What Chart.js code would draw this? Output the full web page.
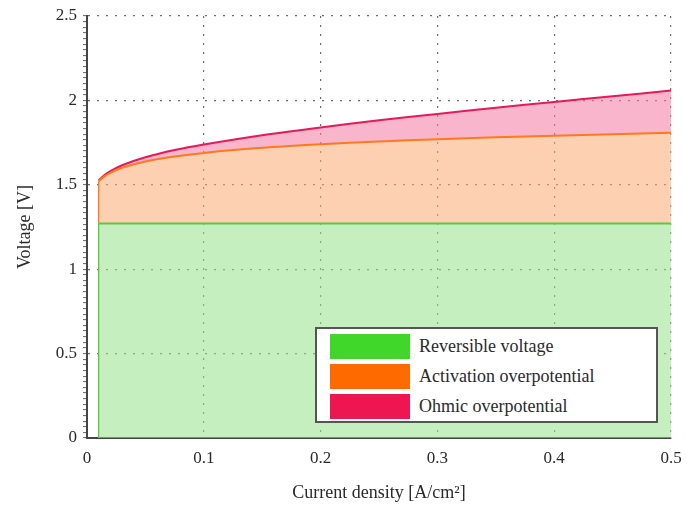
<!DOCTYPE html>
<html>
<head>
<meta charset="utf-8">
<script src="https://cdn.jsdelivr.net/npm/chart.js@4/dist/chart.umd.min.js"></script>
<style>
  body { margin: 0; background: #fff; }
  #wrap { position: relative; width: 687px; height: 510px; }
  #legend {
    position: absolute; left: 315px; top: 327px; width: 343px; height: 96px;
    background: #fff; border: 2px solid #555; box-sizing: border-box;
    font-family: "Liberation Serif", serif; font-size: 18px; color: #2a2a2a;
  }
  .row { position: absolute; left: 13px; height: 26px; display: flex; align-items: center; }
  .sw { width: 80px; height: 25px; margin-right: 9px; }
</style>
</head>
<body>
<div id="wrap">
  <canvas id="voltChart" width="687" height="510"></canvas>
  <div id="legend"></div>
</div>
<script>
// current density [A/cm2]
const current    = [0.01, 0.015, 0.02, 0.03, 0.05, 0.075, 0.1, 0.15, 0.2, 0.25, 0.3, 0.35, 0.4, 0.45, 0.5];
// reversible voltage [V]
const reversible = [1.27, 1.27, 1.27, 1.27, 1.27, 1.27, 1.27, 1.27, 1.27, 1.27, 1.27, 1.27, 1.27, 1.27, 1.27];
// reversible + activation [V]
const activation = [1.52, 1.55, 1.571, 1.601, 1.638, 1.668, 1.689, 1.719, 1.74, 1.757, 1.77, 1.781, 1.791, 1.8, 1.808];
// reversible + activation + ohmic [V]
const ohmic      = [1.525, 1.558, 1.581, 1.616, 1.663, 1.706, 1.739, 1.794, 1.84, 1.882, 1.92, 1.956, 1.991, 2.025, 2.058];

const xTicks = [0, 0.1, 0.2, 0.3, 0.4, 0.5];
const xTickLabels = ['0', '0.1', '0.2', '0.3', '0.4', '0.5'];
const yTicks = [0, 0.5, 1, 1.5, 2, 2.5];
const yTickLabels = ['0', '0.5', '1', '1.5', '2', '2.5'];
const minorPerMajor = 15;

const seriesNames = ['Reversible voltage', 'Activation overpotential', 'Ohmic overpotential'];
const lineColors  = ['#55cc40', '#ff7a1a', '#e8185a'];
const fillColors  = ['rgba(150,226,136,0.55)', 'rgba(252,170,115,0.55)', 'rgba(242,120,160,0.55)'];
const swatchColors = ['#40d62a', '#ff6a00', '#ee1650'];

const pts = ys => current.map((x, i) => ({x: x, y: ys[i]}));
const serif = '"Liberation Serif", "DejaVu Serif", serif';
const dark = '#444';

const datasets = [
  {label: seriesNames[0], data: pts(reversible), borderColor: lineColors[0], backgroundColor: fillColors[0], fill: 'origin'},
  {label: seriesNames[1], data: pts(activation), borderColor: lineColors[1], backgroundColor: fillColors[1], fill: '-1'},
  {label: seriesNames[2], data: pts(ohmic), borderColor: lineColors[2], backgroundColor: fillColors[2], fill: '-1'},
  // left edges of the filled regions
  {label: 'edge0', data: [{x: current[0], y: 0}, {x: current[0], y: reversible[0]}], borderColor: lineColors[0], fill: false, borderWidth: 1.5},
  {label: 'edge1', data: [{x: current[0], y: reversible[0]}, {x: current[0], y: activation[0]}], borderColor: lineColors[1], fill: false, borderWidth: 1.5}
].map(d => Object.assign({pointRadius: 0, borderWidth: 2, tension: 0.3}, d));

const isMajor = v => yTicks.some(t => Math.abs(t - v) < 1e-6);

const ctx = document.getElementById('voltChart').getContext('2d');
new Chart(ctx, {
  type: 'line',
  data: {datasets},
  options: {
    responsive: false,
    animation: false,
    devicePixelRatio: 1,
    layout: {padding: {top: 16, right: 16, left: 0, bottom: 0}},
    plugins: {legend: {display: false}, tooltip: {enabled: false}},
    scales: {
      x: {
        type: 'linear', min: 0, max: 0.5,
        afterBuildTicks: s => { s.ticks = xTicks.map(v => ({value: v})); },
        afterFit: s => { s.height = 72; s.paddingLeft = 0; s.paddingRight = 0; },
        ticks: {
          autoSkip: false, maxRotation: 0, padding: 10, color: '#2a2a2a',
          font: {family: serif, size: 17},
          callback: v => xTickLabels[xTicks.findIndex(t => Math.abs(t - v) < 1e-6)]
        },
        grid: {color: 'rgba(60,60,60,0.75)', lineWidth: 1.2, tickLength: 0},
        border: {color: dark, width: 2, dash: [2, 7]},
        title: {display: true, text: 'Current density [A/cm²]', color: '#2a2a2a', font: {family: serif, size: 18}, padding: {top: 0, bottom: 6}}
      },
      y: {
        type: 'linear', min: 0, max: 2.5,
        afterBuildTicks: s => {
          const t = [];
          const step = (yTicks[1] - yTicks[0]) / minorPerMajor;
          const n = Math.round((yTicks[yTicks.length - 1] - yTicks[0]) / step);
          for (let k = 0; k <= n; k++) t.push({value: yTicks[0] + k * step});
          s.ticks = t;
        },
        afterFit: s => { s.width = 87; s.paddingTop = 0; s.paddingBottom = 0; },
        ticks: {
          autoSkip: false, padding: 6, color: '#2a2a2a',
          font: {family: serif, size: 17},
          callback: v => isMajor(v) ? yTickLabels[yTicks.findIndex(t => Math.abs(t - v) < 1e-6)] : ''
        },
        grid: {
          color: c => isMajor(c.tick.value) ? 'rgba(60,60,60,0.75)' : 'rgba(0,0,0,0)',
          lineWidth: 1.2,
          tickLength: 4,
          tickColor: '#666',
          tickWidth: 1,
          tickBorderDash: []
        },
        border: {color: dark, width: 2, dash: [2, 7]},
        title: {display: true, text: 'Voltage [V]', color: '#2a2a2a', font: {family: serif, size: 18}, padding: {top: 14, bottom: 0}}
      }
    }
  }
});

// legend box
const legend = document.getElementById('legend');
seriesNames.forEach((name, i) => {
  const row = document.createElement('div');
  row.className = 'row';
  row.style.top = (4 + i * 30) + 'px';
  row.innerHTML = `<div class="sw" style="background:${swatchColors[i]}"></div><span>${name}</span>`;
  legend.appendChild(row);
});
</script>
</body>
</html>
